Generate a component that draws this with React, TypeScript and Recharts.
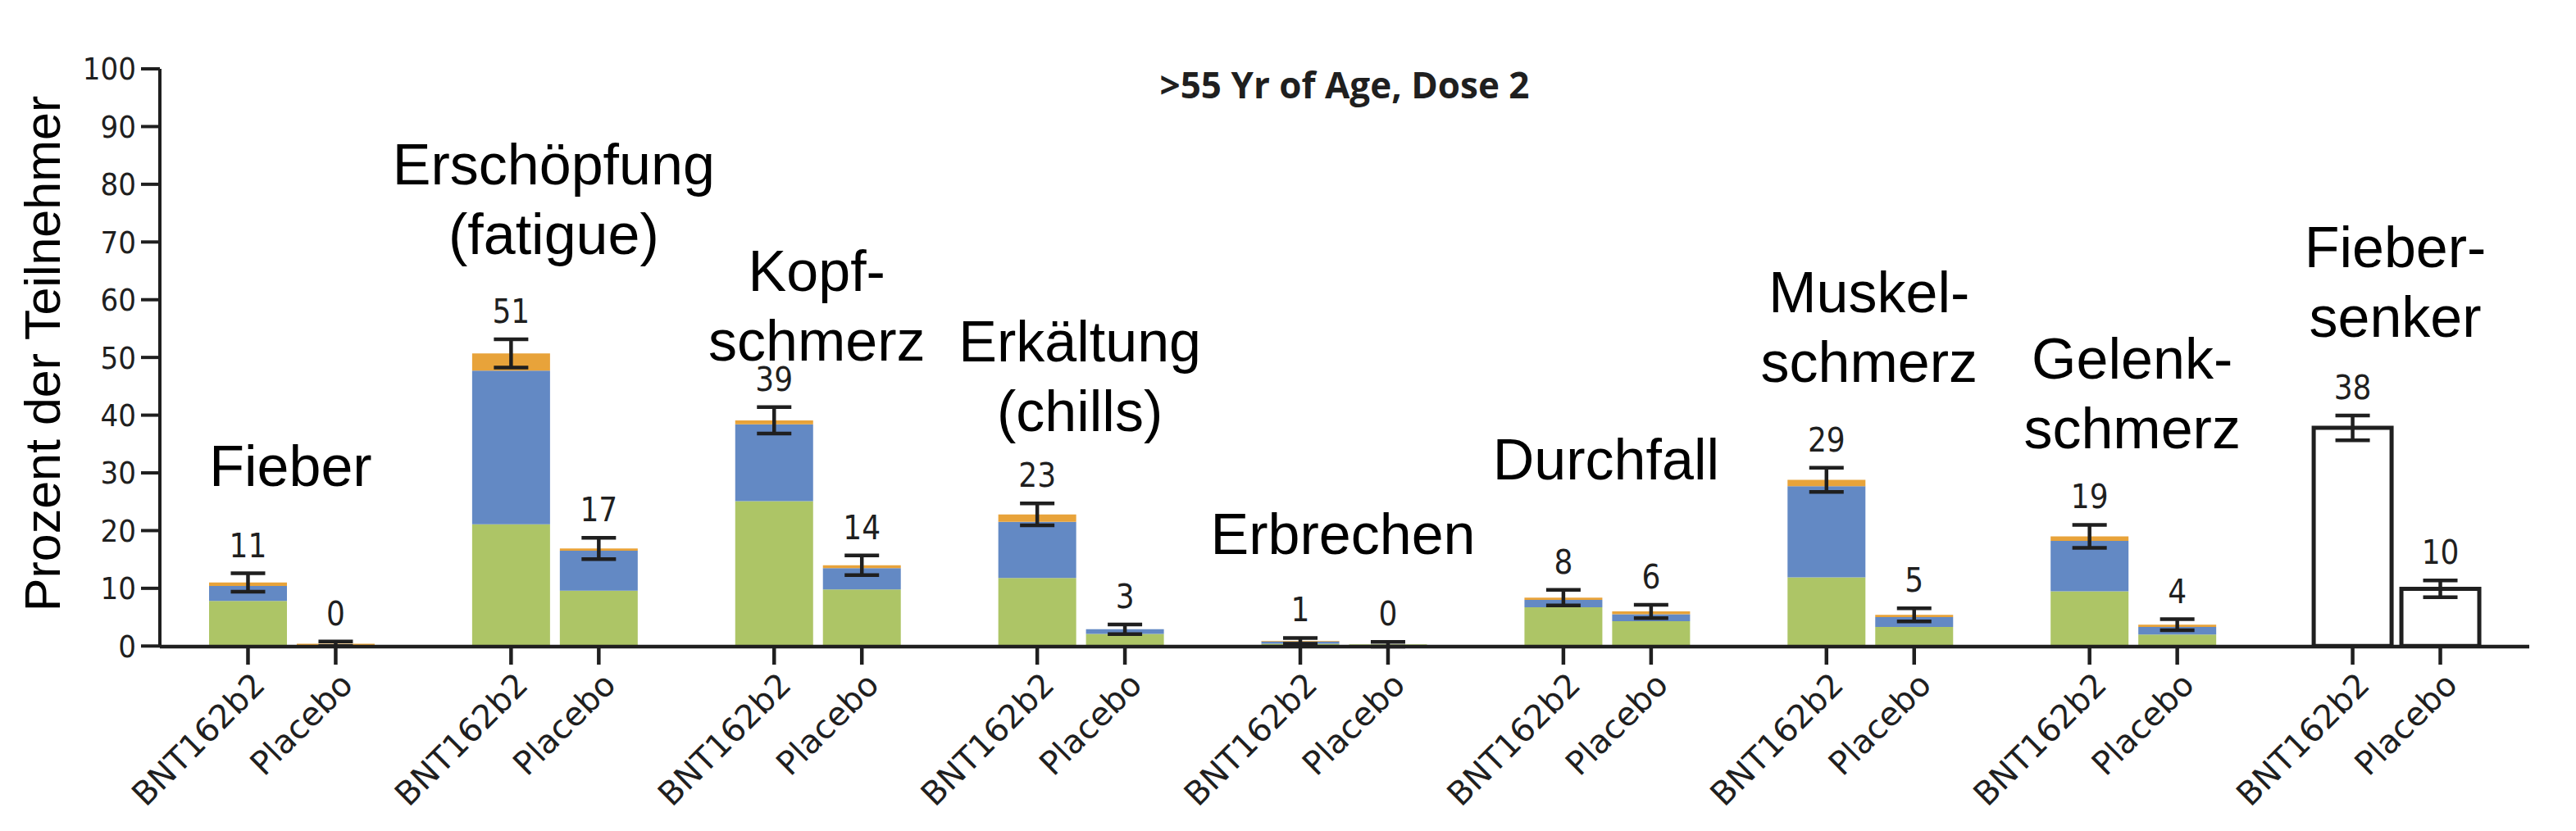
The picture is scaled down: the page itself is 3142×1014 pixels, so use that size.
import React from "react";
import {
  Bar,
  ComposedChart,
  ErrorBar,
  LabelList,
  Line,
  XAxis,
  YAxis,
} from "recharts";

// symptom groups (German labels, one entry per line)
const GROUPS = [
  ["Fieber"],
  ["Erschöpfung", "(fatigue)"],
  ["Kopf-", "schmerz"],
  ["Erkältung", "(chills)"],
  ["Erbrechen"],
  ["Durchfall"],
  ["Muskel-", "schmerz"],
  ["Gelenk-", "schmerz"],
  ["Fieber-", "senker"],
];
const ARMS = ["BNT162b2", "Placebo"];

// percentages per bar, order: group1 BNT, group1 Placebo, group2 BNT, ...
const MILD = [7.8, 0, 21.1, 9.6, 25.1, 9.8, 11.8, 2.1, 0.4, 0.3, 6.7, 4.3, 11.9, 3.3, 9.5, 2.0, 0, 0];
const MODERATE = [2.6, 0, 26.6, 6.9, 13.3, 3.7, 9.7, 0.8, 0.4, 0, 1.3, 1.2, 15.8, 1.7, 8.7, 1.3, 0, 0];
const SEVERE = [0.6, 0.4, 3.0, 0.4, 0.7, 0.5, 1.3, 0, 0.1, 0, 0.4, 0.5, 1.1, 0.4, 0.8, 0.4, 0, 0];
const OUTLINED = [0, 0, 0, 0, 0, 0, 0, 0, 0, 0, 0, 0, 0, 0, 0, 0, 37.8, 9.9];
const ERROR = [1.6, 0.4, 2.45, 1.85, 2.3, 1.7, 1.9, 0.85, 0.5, 0.4, 1.35, 1.15, 2.1, 1.15, 2.0, 0.95, 2.15, 1.45];
const PCT_LABELS = ["11", "0", "51", "17", "39", "14", "23", "3", "1", "0", "8", "6", "29", "5", "19", "4", "38", "10"];
// value (in %) at which the last line of each group title sits
const GROUP_LABEL_AT = [27.7, 67.9, 49.5, 37.2, 16.0, 28.9, 45.7, 34.3, 53.5];

const Y_TICKS = [0, 10, 20, 30, 40, 50, 60, 70, 80, 90, 100];

const GREEN = "#adc566";
const BLUE = "#6389c4";
const ORANGE = "#e8a33a";
const INK = "#1f1f1f";
const NUM_FONT = "'DejaVu Sans Condensed', 'DejaVu Sans', sans-serif";
const TICK_FONT = "'DejaVu Sans', sans-serif";
const LABEL_FONT = "'Liberation Sans', Arial, sans-serif";

type Row = {
  arm: string;
  outlined?: number;
  mild?: number;
  moderate?: number;
  severe?: number;
  total?: number;
  err?: number;
  labelAt?: number;
  pct?: string;
  tagAt?: number;
  tag?: string;
};

const rows: Row[] = [];
GROUPS.forEach((lines, g) => {
  ARMS.forEach((arm, a) => {
    const i = g * 2 + a;
    const total = OUTLINED[i] + MILD[i] + MODERATE[i] + SEVERE[i];
    rows.push({
      arm,
      outlined: OUTLINED[i],
      mild: MILD[i],
      moderate: MODERATE[i],
      severe: SEVERE[i],
      total,
      err: ERROR[i],
      labelAt: total + ERROR[i],
      pct: PCT_LABELS[i],
      tagAt: a === 0 ? GROUP_LABEL_AT[g] : undefined,
      tag: a === 0 ? lines.join("\n") : undefined,
    });
  });
  if (g < GROUPS.length - 1) rows.push({ arm: "" });
});

function ArmTick(props: any) {
  const { x, y, payload } = props;
  if (!payload || !payload.value) return null;
  return (
    <g>
      <line x1={x} y1={y - 22} x2={x} y2={y} stroke={INK} strokeWidth={4.5} />
      <text
        x={x + 23}
        y={y + 27}
        transform={`rotate(-45, ${x + 23}, ${y + 27})`}
        textAnchor="end"
        fontFamily={TICK_FONT}
        fontSize={40}
        fill={INK}
      >
        {payload.value}
      </text>
    </g>
  );
}

function GroupTitle(props: any) {
  const vb = props.viewBox || props;
  const { value } = props;
  if (value == null || vb.y == null || isNaN(vb.y)) return null;
  const lines = String(value).split("\n");
  // title is centred between the two bars of the pair
  const cx = vb.x + 52;
  return (
    <g>
      {lines.map((l, i) => (
        <text
          key={i}
          x={cx}
          y={vb.y - (lines.length - 1 - i) * 85}
          textAnchor="middle"
          fontFamily={LABEL_FONT}
          fontSize={70}
          fill="#000"
        >
          {l}
        </text>
      ))}
    </g>
  );
}

function YTitle(props: any) {
  const vb = props.viewBox;
  const cy = vb.y + vb.height / 2 - 5;
  return (
    <text
      x={73}
      y={cy}
      transform={`rotate(-90, 73, ${cy})`}
      textAnchor="middle"
      fontFamily={LABEL_FONT}
      fontSize={61}
      fill="#000"
    >
      Prozent der Teilnehmer
    </text>
  );
}

export default function App() {
  return (
    <div style={{ position: "absolute", left: 0, top: 0, background: "#fff" }}>
      <ComposedChart
        width={3142}
        height={1014}
        data={rows}
        margin={{ top: 84, right: 57, bottom: 25, left: 0 }}
      >
        <text
          x={1640}
          y={120}
          textAnchor="middle"
          fontFamily="'Open Sans', sans-serif"
          fontWeight={700}
          fontSize={44}
          fill={INK}
        >
          {">55 Yr of Age, Dose 2"}
        </text>
        <XAxis
          dataKey="arm"
          interval={0}
          height={200}
          padding={{ left: 54, right: 55 }}
          tickLine={false}
          tickSize={22}
          tickMargin={0}
          axisLine={{ stroke: INK, strokeWidth: 4.5 }}
          tick={<ArmTick />}
        />
        <YAxis
          type="number"
          domain={[0, 100]}
          ticks={Y_TICKS}
          interval={0}
          width={195}
          tickSize={23}
          tickMargin={6}
          axisLine={{ stroke: INK, strokeWidth: 4 }}
          tickLine={{ stroke: INK, strokeWidth: 4 }}
          tick={{ fill: INK, fontSize: 38, fontFamily: NUM_FONT }}
          label={<YTitle />}
        />
        <Bar
          dataKey="outlined"
          stackId="s"
          barSize={95}
          fill="#fff"
          stroke={INK}
          strokeWidth={5}
          isAnimationActive={false}
        />
        <Bar dataKey="mild" stackId="s" barSize={95} fill={GREEN} isAnimationActive={false} />
        <Bar dataKey="moderate" stackId="s" barSize={95} fill={BLUE} isAnimationActive={false} />
        <Bar dataKey="severe" stackId="s" barSize={95} fill={ORANGE} isAnimationActive={false} />
        <Line
          dataKey="total"
          stroke="none"
          dot={false}
          activeDot={false}
          legendType="none"
          isAnimationActive={false}
        >
          <ErrorBar
            dataKey="err"
            direction="y"
            width={21}
            stroke={INK}
            strokeWidth={4.5}
            isAnimationActive={false}
          />
        </Line>
        <Line
          dataKey="labelAt"
          stroke="none"
          dot={false}
          activeDot={false}
          legendType="none"
          isAnimationActive={false}
        >
          <LabelList
            dataKey="pct"
            position="top"
            offset={20}
            fontSize={40}
            fontFamily={NUM_FONT}
            fill={INK}
          />
        </Line>
        <Line
          dataKey="tagAt"
          stroke="none"
          dot={false}
          activeDot={false}
          legendType="none"
          isAnimationActive={false}
        >
          <LabelList dataKey="tag" content={<GroupTitle />} />
        </Line>
      </ComposedChart>
    </div>
  );
}
